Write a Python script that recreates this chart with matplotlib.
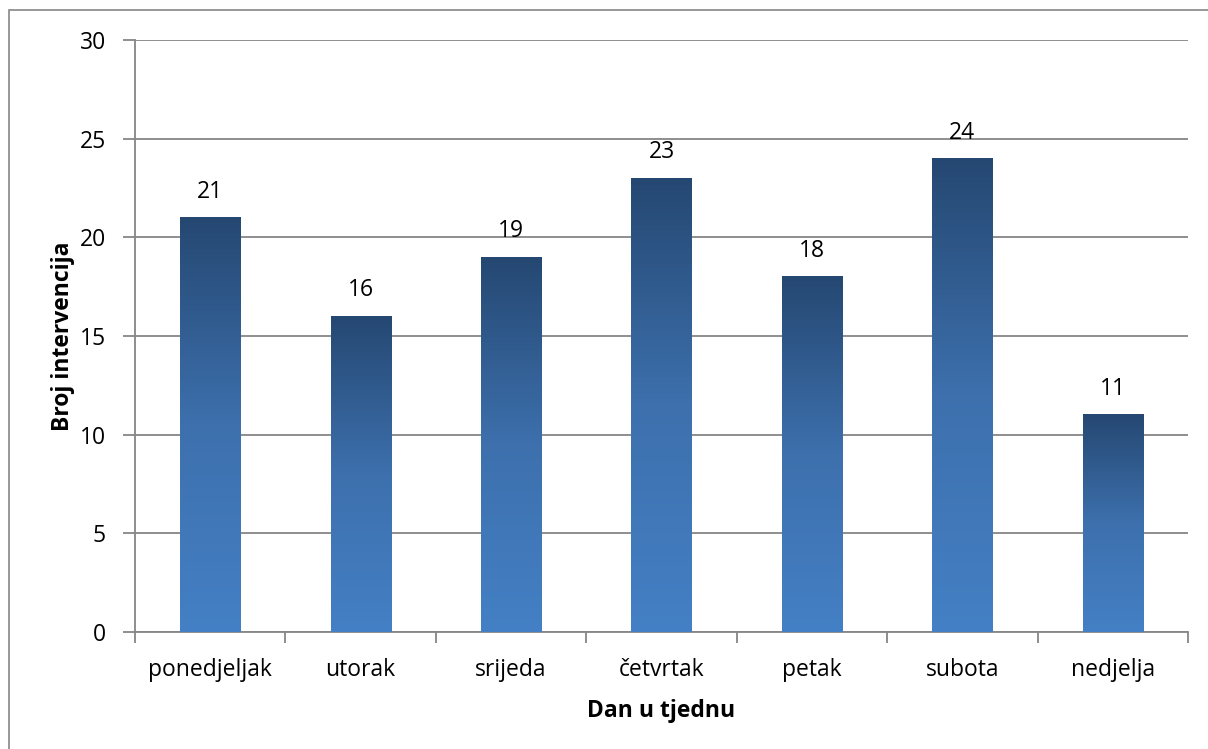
import numpy as np
import matplotlib.pyplot as plt
from matplotlib.colors import LinearSegmentedColormap
from matplotlib.patches import Rectangle

days = ['ponedjeljak', 'utorak', 'srijeda', 'četvrtak', 'petak', 'subota', 'nedjelja']
counts = [21, 16, 19, 23, 18, 24, 11]

plt.rcParams['font.family'] = ['Open Sans', 'DejaVu Sans']
fs = 16.5

grid_col = '#868686'
fill = LinearSegmentedColormap.from_list('fill', ['#4480c5', '#3d70ad', '#254872'])

fig = plt.figure(figsize=(12.08, 7.49), dpi=100)
fig.patches.append(Rectangle((9 / 1208, -0.01), 1.02, 1 - 10 / 749 + 0.01,
                             transform=fig.transFigure, fill=False,
                             edgecolor=grid_col, linewidth=1.2))
ax = fig.add_axes([135 / 1208, 1 - 632 / 749, (1188 - 135) / 1208, (632 - 40) / 749])

x = np.arange(len(days))
width = 0.4
bars = ax.bar(x, counts, width=width, color='none', zorder=3)
grad = np.linspace(0, 1, 256).reshape(-1, 1)
for b in bars:
    x0, y0 = b.get_x(), b.get_y()
    ax.imshow(grad, cmap=fill, origin='lower', aspect='auto', zorder=3,
              extent=(x0, x0 + b.get_width(), y0, y0 + b.get_height()))

for xi, v in zip(x, counts):
    ax.text(xi, v + 0.7, str(v), ha='center', va='bottom', fontsize=fs, color='black')

ax.set_xlim(-0.5, len(days) - 0.5)
ax.set_ylim(0, 30)
ax.set_yticks(range(0, 31, 5))
ax.yaxis.grid(True, color=grid_col, linewidth=1.3)
ax.set_axisbelow(True)

ax.set_xticks(x)
ax.set_xticklabels(days, fontsize=fs)
ax.set_xticks(np.arange(-0.5, len(days)), minor=True)
ax.tick_params(axis='x', which='major', length=0, pad=19)
ax.tick_params(axis='x', which='minor', length=8, width=1.3, color=grid_col)
ax.tick_params(axis='y', length=9, width=1.3, color=grid_col, labelsize=fs, pad=12)

for s in ['top', 'right']:
    ax.spines[s].set_visible(False)
for s in ['left', 'bottom']:
    ax.spines[s].set_color(grid_col)
    ax.spines[s].set_linewidth(1.3)

ax.set_xlabel('Dan u tjednu', fontsize=fs, fontweight='bold', labelpad=12)
ax.set_ylabel('Broj intervencija', fontsize=fs, fontweight='bold', labelpad=3)

fig.savefig('out.png', dpi=100)
